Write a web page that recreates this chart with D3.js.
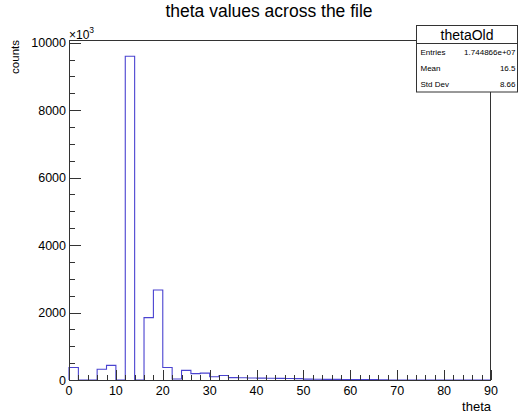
<!DOCTYPE html>
<html>
<head>
<meta charset="utf-8">
<script src="https://cdn.jsdelivr.net/npm/d3@7"></script>
<style>
  html, body { margin: 0; padding: 0; background: #fff; }
  svg { display: block; font-family: "Liberation Sans", Arial, Helvetica, sans-serif; }
</style>
</head>
<body>
<script>
// ---- data (values in units of 10^3 counts) ----
const title = "theta values across the file";
const xLabel = "theta";
const yLabel = "counts";
const histName = "thetaOld";
const binEdgesStart = 0;
const binWidth = 2;
const binValues = [
  370, 0, 0, 320, 435, 0, 9600, 0, 1850, 2670,
  370, 30, 285, 190, 205, 95, 135, 70, 65, 60,
  55, 50, 48, 45, 42, 25, 22, 20, 18, 17,
  16, 15, 15, 3, 2, 2, 2, 1, 1, 1,
  1, 1, 1, 1, 1
];
const xTickValues = [0, 10, 20, 30, 40, 50, 60, 70, 80, 90];
const yTickValues = [0, 2000, 4000, 6000, 8000, 10000];
const statLabels = ["Entries", "Mean", "Std Dev"];
const statValues = ["1.744866e+07", "16.5", "8.66"];
const xDomain = [0, 90];
const yDomain = [0, 10080];

(function () {
// ---- layout ----
const W = 518, H = 416;
const pL = 69, pR = 491, pT = 40, pB = 380;
const axisColor = "#333";
const histColor = "#4a43d0";

const svg = d3.select("body").append("svg").attr("width", W).attr("height", H);

const x = d3.scaleLinear().domain(xDomain).range([pL, pR]);
const y = d3.scaleLinear().domain(yDomain).range([pB, pT]);

// title
svg.append("text").attr("x", 269).attr("y", 17).attr("text-anchor", "middle")
  .attr("font-size", 17.5).attr("fill", "#000").text(title);

// histogram outline
const pts = [[binEdgesStart, 0]];
binValues.forEach((v, i) => {
  const a = binEdgesStart + i * binWidth;
  pts.push([a, v], [a + binWidth, v]);
});
pts.push([binEdgesStart + binValues.length * binWidth, 0]);
svg.append("path")
  .attr("d", d3.line().x(d => x(d[0])).y(d => y(d[1]))(pts))
  .attr("fill", "none").attr("stroke", histColor).attr("stroke-width", 1.1);

// x axis ticks
const gx = svg.append("g");
const xMinor = d3.range(xDomain[0], xDomain[1] + 0.001, 2);
gx.selectAll("line.minor").data(xMinor).join("line")
  .attr("x1", d => Math.round(x(d)) + 0.5).attr("x2", d => Math.round(x(d)) + 0.5)
  .attr("y1", pB).attr("y2", pB - 5).attr("stroke", axisColor);
gx.selectAll("line.major").data(xTickValues).join("line")
  .attr("x1", d => Math.round(x(d)) + 0.5).attr("x2", d => Math.round(x(d)) + 0.5)
  .attr("y1", pB).attr("y2", pB - 10).attr("stroke", axisColor);
gx.selectAll("text").data(xTickValues).join("text")
  .attr("x", d => x(d)).attr("y", 395).attr("text-anchor", "middle")
  .attr("font-size", 12.5).attr("fill", "#000").text(d => d);

// y axis ticks
const gy = svg.append("g");
const yMinor = d3.range(0, 10000 + 0.001, 500);
gy.selectAll("line.minor").data(yMinor).join("line")
  .attr("y1", d => Math.round(y(d)) + 0.5).attr("y2", d => Math.round(y(d)) + 0.5)
  .attr("x1", pL).attr("x2", pL + 6).attr("stroke", axisColor);
gy.selectAll("line.major").data(yTickValues).join("line")
  .attr("y1", d => Math.round(y(d)) + 0.5).attr("y2", d => Math.round(y(d)) + 0.5)
  .attr("x1", pL).attr("x2", pL + 12).attr("stroke", axisColor);
gy.selectAll("text").data(yTickValues).join("text")
  .attr("x", 66).attr("y", d => y(d) + 4.5).attr("text-anchor", "end")
  .attr("font-size", 12.5).attr("fill", "#000").text(d => d);

// frame
svg.append("rect").attr("x", pL + 0.5).attr("y", pT + 0.5)
  .attr("width", pR - pL - 1).attr("height", pB - pT)
  .attr("fill", "none").attr("stroke", axisColor);

// x10^3 multiplier
const mult = svg.append("text").attr("x", 69).attr("y", 38.5).attr("font-size", 12).attr("fill", "#000");
mult.append("tspan").text("\u00d710");
mult.append("tspan").attr("dy", -6).attr("font-size", 8.5).text("3");

// axis labels
svg.append("text").attr("x", pR).attr("y", 411).attr("text-anchor", "end")
  .attr("font-size", 13).attr("fill", "#000").text(xLabel);
svg.append("text").attr("transform", `translate(18.5,${pT}) rotate(-90)`)
  .attr("text-anchor", "end").attr("font-size", 11.5).attr("fill", "#000").text(yLabel);

// stats box
const bx = 416.5, by = 25.5, bw = 101, bh = 66.5, hh = 18;
const stats = svg.append("g");
stats.append("rect").attr("x", bx).attr("y", by).attr("width", bw).attr("height", bh)
  .attr("fill", "#fff").attr("stroke", axisColor);
stats.append("line").attr("x1", bx).attr("x2", bx + bw).attr("y1", by + hh).attr("y2", by + hh)
  .attr("stroke", axisColor);
stats.append("text").attr("x", bx + bw / 2).attr("y", by + 14).attr("text-anchor", "middle")
  .attr("font-size", 14).attr("fill", "#000").text(histName);
const rowH = (bh - hh) / statLabels.length;
statLabels.forEach((lab, i) => {
  const cy = by + hh + rowH * (i + 0.5) + 3;
  stats.append("text").attr("x", bx + 4).attr("y", cy).attr("font-size", 8)
    .attr("fill", "#000").text(lab);
  stats.append("text").attr("x", bx + bw - 2).attr("y", cy).attr("text-anchor", "end")
    .attr("font-size", 8).attr("fill", "#000").text(statValues[i]);
});
})();
</script>
</body>
</html>
